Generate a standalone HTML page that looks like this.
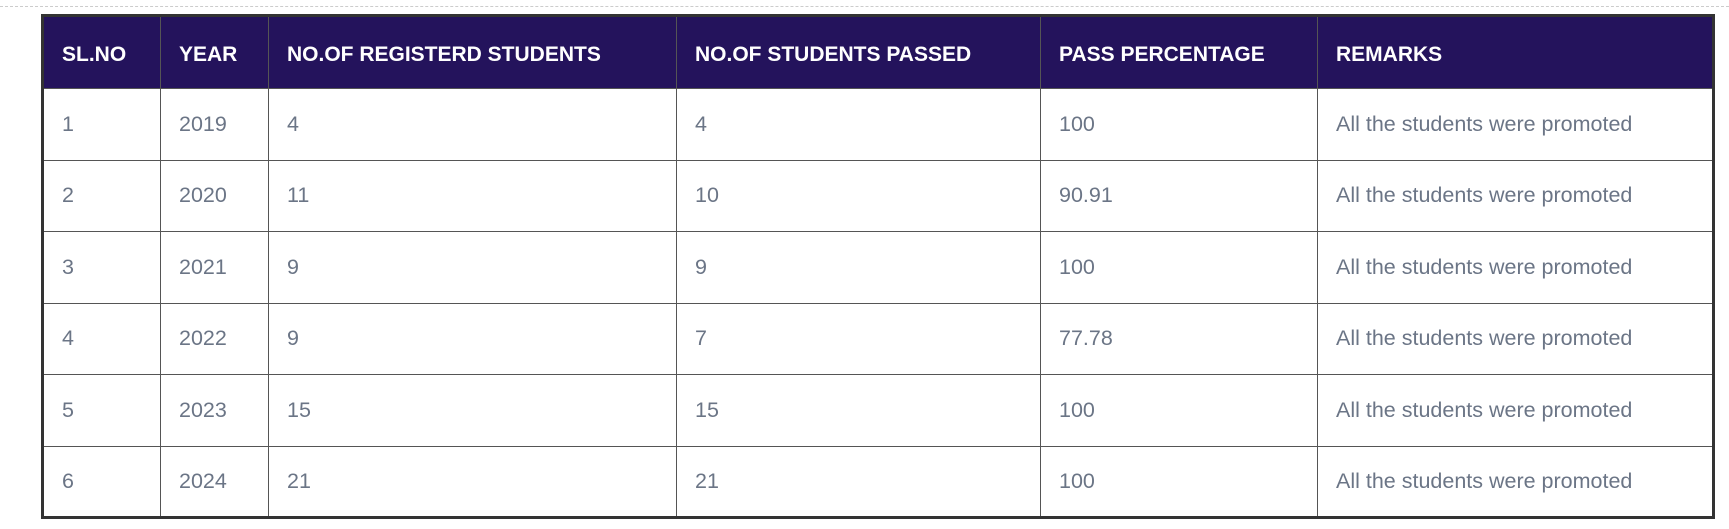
<!DOCTYPE html>
<html><head><meta charset="utf-8"><style>
html,body{margin:0;padding:0;background:#fff;width:1729px;height:529px;overflow:hidden;font-family:"Liberation Sans",sans-serif}
.dash{position:absolute;left:0;top:6px;width:1729px;border-top:1px dashed #ccc}
table{position:absolute;left:41px;top:14px;border-collapse:collapse;border:3px solid #333;table-layout:fixed;width:1674px}
td,th{border:1px solid #555;padding:0 0 0 18px;text-align:left;box-sizing:border-box;white-space:nowrap}
th{background:#24135c;color:#fff;font-weight:bold;font-size:21px;height:73px;padding-top:4px}
td{color:#6b7586;font-size:21.5px;height:71.5px}
</style></head><body>
<div class="dash"></div>
<table>
<colgroup><col style="width:118px"><col style="width:108px"><col style="width:408px"><col style="width:364px"><col style="width:277px"><col></colgroup>
<tr><th>SL.NO</th><th>YEAR</th><th>NO.OF REGISTERD STUDENTS</th><th>NO.OF STUDENTS PASSED</th><th>PASS PERCENTAGE</th><th>REMARKS</th></tr>
<tr><td>1</td><td>2019</td><td>4</td><td>4</td><td>100</td><td>All the students were promoted</td></tr>
<tr><td>2</td><td>2020</td><td>11</td><td>10</td><td>90.91</td><td>All the students were promoted</td></tr>
<tr><td>3</td><td>2021</td><td>9</td><td>9</td><td>100</td><td>All the students were promoted</td></tr>
<tr><td>4</td><td>2022</td><td>9</td><td>7</td><td>77.78</td><td>All the students were promoted</td></tr>
<tr><td>5</td><td>2023</td><td>15</td><td>15</td><td>100</td><td>All the students were promoted</td></tr>
<tr><td>6</td><td>2024</td><td>21</td><td>21</td><td>100</td><td>All the students were promoted</td></tr>
</table>
</body></html>
